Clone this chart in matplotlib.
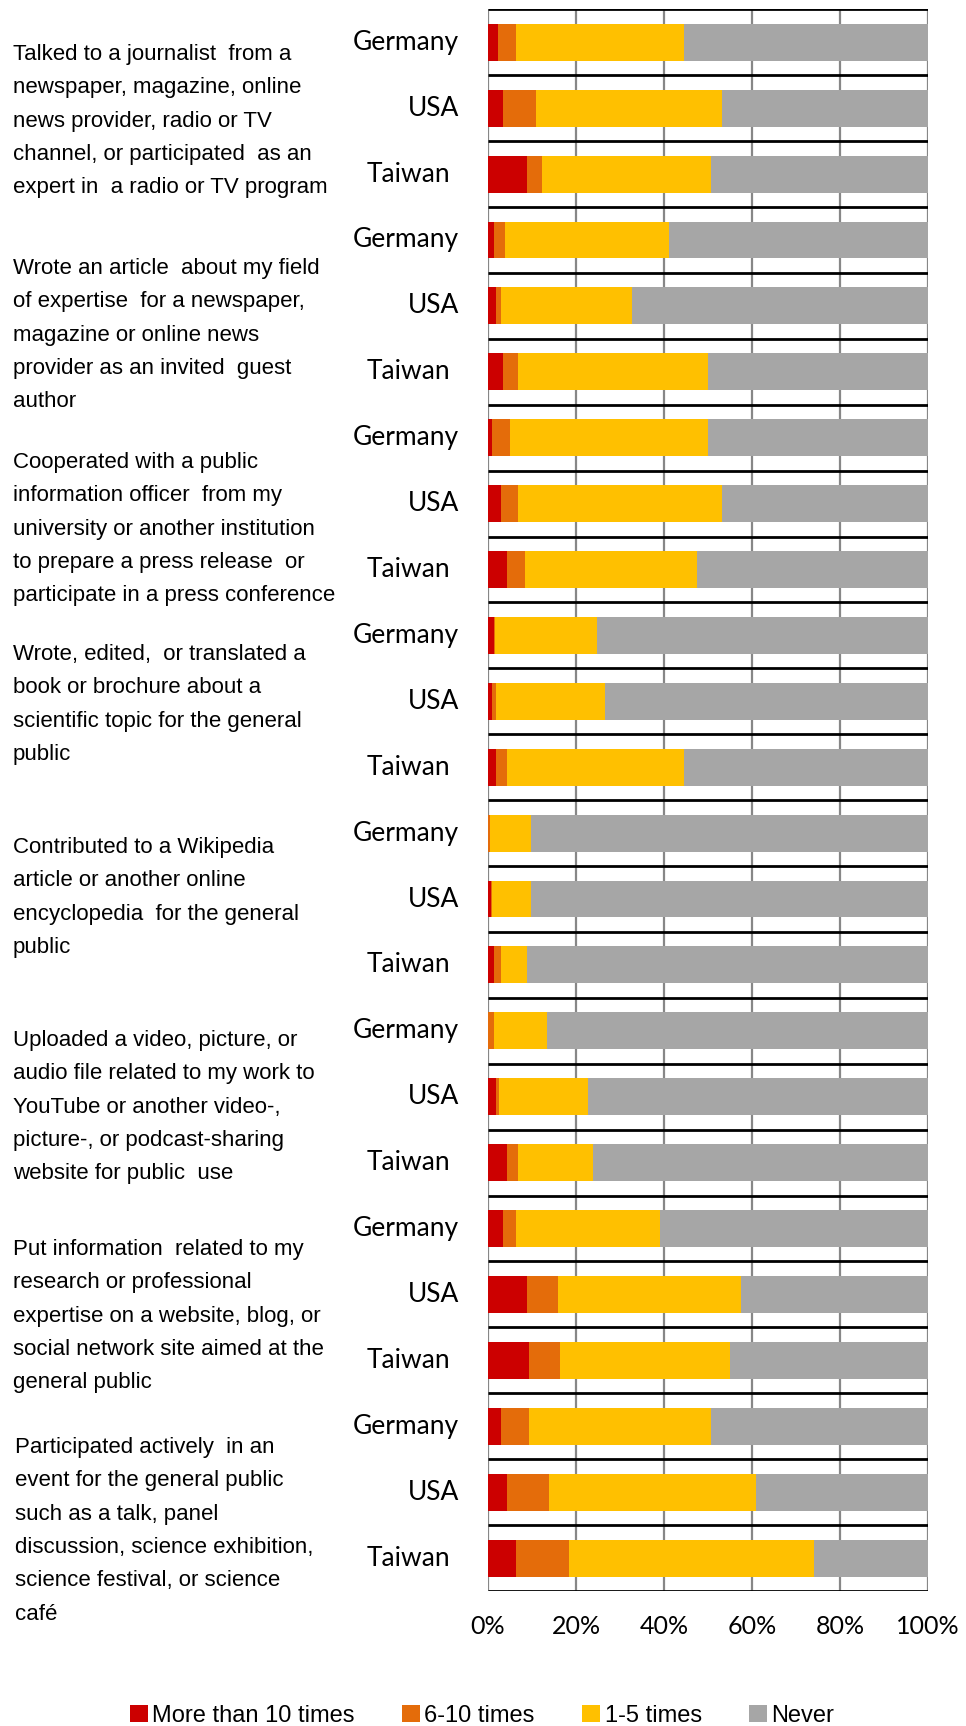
import matplotlib
matplotlib.use("Agg")
import matplotlib.pyplot as plt
import matplotlib.transforms as mtransforms
from matplotlib.patches import Patch
import numpy as np

# activities, each answered by three countries
activities = [
    ["Talked to a journalist  from a", "newspaper, magazine, online",
     "news provider, radio or TV", "channel, or participated  as an",
     "expert in  a radio or TV program"],
    ["Wrote an article  about my field", "of expertise  for a newspaper,",
     "magazine or online news", "provider as an invited  guest", "author"],
    ["Cooperated with a public", "information officer  from my",
     "university or another institution", "to prepare a press release  or",
     "participate in a press conference"],
    ["Wrote, edited,  or translated a", "book or brochure about a",
     "scientific topic for the general", "public"],
    ["Contributed to a Wikipedia", "article or another online",
     "encyclopedia  for the general", "public"],
    ["Uploaded a video, picture, or", "audio file related to my work to",
     "YouTube or another video-,", "picture-, or podcast-sharing",
     "website for public  use"],
    ["Put information  related to my", "research or professional",
     "expertise on a website, blog, or", "social network site aimed at the",
     "general public"],
    ["Participated actively  in an", "event for the general public",
     "such as a talk, panel", "discussion, science exhibition,",
     "science festival, or science", "café"],
]
countries = ["Germany", "USA", "Taiwan"]

# shares in percent, rows in order activity 1 (Germany, USA, Taiwan), activity 2 ...
more_than_10 = [2.3, 3.4, 8.9, 1.4, 1.8, 3.4, 0.9, 3.0, 4.3, 1.4, 0.9, 1.8,
                0.0, 0.7, 1.4, 0.0, 1.9, 4.3, 3.4, 8.9, 9.3, 3.0, 4.3, 6.3]
six_to_10 = [4.0, 7.4, 3.4, 2.5, 1.2, 3.4, 4.0, 3.8, 4.1, 0.3, 0.9, 2.5,
             0.4, 0.3, 1.6, 1.4, 0.5, 2.5, 2.9, 7.0, 7.1, 6.3, 9.5, 12.0]
one_to_5 = [38.3, 42.3, 38.3, 37.2, 29.7, 43.2, 45.1, 46.3, 39.2, 23.1, 24.9, 40.3,
            9.4, 8.8, 5.9, 12.0, 20.4, 17.0, 32.9, 41.6, 38.7, 41.3, 47.2, 55.7]
never = [55.4, 46.9, 49.4, 58.9, 67.3, 50.0, 50.0, 46.9, 52.4, 75.2, 73.3, 55.4,
         90.2, 90.2, 91.1, 86.6, 77.2, 76.2, 60.8, 42.5, 44.9, 49.4, 39.0, 26.0]

series = [more_than_10, six_to_10, one_to_5, never]
series_names = ["More than 10 times", "6-10 times", "1-5 times", "Never"]
colors = ["#CC0000", "#E46C0A", "#FFC000", "#A6A6A6"]

W, H = 966, 1726
fig = plt.figure(figsize=(W / 100, H / 100), dpi=100)
ax = fig.add_axes([488 / W, 1 - 1591 / H, 440 / W, (1591 - 9.3) / H])

n_rows = len(more_than_10)
y = np.arange(n_rows)
left = np.zeros(n_rows)
for vals, name, c in zip(series, series_names, colors):
    vals = np.array(vals)
    ax.barh(y, vals, left=left, height=0.56, color=c, linewidth=0, label=name, zorder=2)
    left += vals

ax.set_xlim(0, 100)
ax.set_ylim(n_rows - 0.5, -0.5)

# vertical grid + black separators between every row
for gx in range(0, 101, 20):
    ax.axvline(gx, color="#878787", lw=1.6, zorder=1)
ax.hlines(np.arange(n_rows + 1) - 0.5, 0, 100, color="black", lw=2.0, zorder=3)

for s in ax.spines.values():
    s.set_visible(False)

ax.set_xticks(range(0, 101, 20))
ax.set_xticklabels([f"{v}%" for v in range(0, 101, 20)], family="Lato", fontsize=18)
ax.tick_params(axis="x", length=0, pad=17)
ax.set_yticks([])

# country names next to each bar
trans = mtransforms.blended_transform_factory(ax.transAxes, ax.transData)
label_x = {"Germany": -0.066, "USA": -0.066, "Taiwan": -0.086}
for i in range(n_rows):
    name = countries[i % 3]
    ax.text(label_x[name], i, name, transform=trans, ha="right", va="center",
            family="Lato", fontsize=19)

# activity descriptions on the left
first_baselines = [60, 274, 468, 660, 853, 1046, 1255, 1453]
text_x = [13, 13, 13, 13, 13, 13, 13, 15]
for lines, y0, x0 in zip(activities, first_baselines, text_x):
    for k, line in enumerate(lines):
        fig.text(x0 / W, 1 - (y0 + 33.3 * k) / H, line, ha="left", va="baseline",
                 family="Liberation Sans", fontsize=16)

handles = [Patch(facecolor=c, edgecolor="none") for c in colors]
fig.legend(handles, series_names, loc="center", bbox_to_anchor=(0.499, 1 - 1716 / H),
           ncol=4, frameon=False, handlelength=0.75, handleheight=0.75,
           handletextpad=0.2, columnspacing=2.0,
           prop={"family": "Liberation Sans", "size": 17})

fig.savefig("out.png", dpi=100)
